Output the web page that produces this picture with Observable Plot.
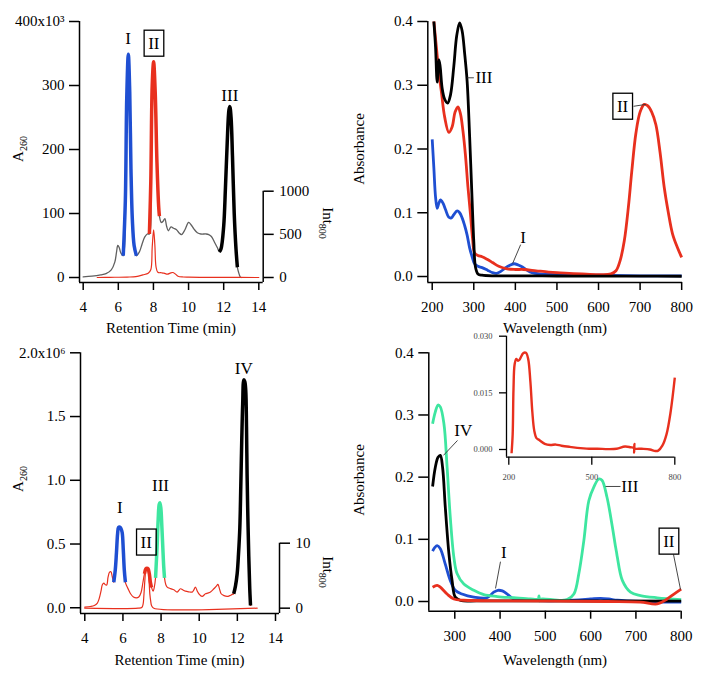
<!DOCTYPE html>
<html><head><meta charset="utf-8">
<script src="https://cdn.jsdelivr.net/npm/d3@7"></script>
<script src="https://cdn.jsdelivr.net/npm/@observablehq/plot@0.6"></script>
<style>
body{margin:0;background:#fff;}
#chart{position:relative;width:704px;height:678px;overflow:hidden;background:#fff;}
#chart svg{position:absolute;left:0;top:0;font-family:"Liberation Serif","Times New Roman",serif !important;font-size:15px;background:transparent !important;color:#000;}
</style></head><body><div id="chart"></div>
<script>
// ---------- DATA ----------
// Panel A (top-left): retention time (min) vs A260 (x10^3), full trace
const chromA_A260 = [[4.0,1],[4.5,2],[5.0,4],[5.3,6],[5.6,12],[5.8,24],[5.9,40],[5.97,50],[6.05,47],[6.15,38],[6.28,34],
 [6.4,120],[6.48,280],[6.57,349],[6.65,290],[6.72,170],[6.8,90],[6.9,50],[7.03,34],[7.2,40],[7.35,52],[7.5,63],[7.65,68],[7.77,68],
 [7.85,150],[7.93,300],[8.01,337],[8.1,290],[8.2,180],[8.3,110],[8.34,96],[8.45,86],[8.55,88],[8.65,92],[8.75,80],[8.85,73],
 [9.0,79],[9.15,77],[9.3,75],[9.45,70],[9.6,67],[9.8,75],[10.0,86],[10.15,82],[10.3,76],[10.5,70],[10.7,68],[11.0,68],[11.15,67],
 [11.3,64],[11.5,54],[11.65,46],[11.75,40],[11.85,45],[12.0,80],[12.1,140],[12.2,210],[12.3,262],[12.35,267],[12.42,250],
 [12.5,190],[12.6,100],[12.7,45],[12.78,16],[12.85,8],[12.94,1],[13.0,0]];
const chromA_Int800 = [[4.8,0],[5.5,2],[6.5,5],[7.0,10],[7.4,30],[7.7,50],[7.85,90],[7.93,350],[8.01,553],[8.08,380],[8.15,120],
 [8.25,60],[8.45,55],[8.6,50],[8.8,38],[8.95,50],[9.1,58],[9.25,40],[9.4,15],[9.7,6],[10.0,4],[11,2],[12,1],[14,0]];
const chromA_fractions = [["I",6.28,7.03,"blue"],["II",7.77,8.34,"red"],["III",11.75,12.78,"black"]];
const chromA_labels = [["I",6.56,373],["II",8.02,366],["III",12.35,285]];

// Panel B (top-right): wavelength (nm) vs absorbance
const specB_III = [[204,0.40],[208,0.36],[212,0.305],[216,0.34],[219,0.33],[224,0.295],[230,0.278],[237,0.272],[244,0.285],[252,0.33],
 [259,0.378],[266,0.398],[272,0.385],[278,0.35],[284,0.306],[290,0.22],[296,0.119],[300,0.055],[304,0.015],[310,0.004],[320,0.002],
 [350,0.001],[400,0.001],[500,0.0008],[600,0.0006],[700,0.0005],[800,0.0004]];
const specB_II = [[204,0.40],[210,0.36],[216,0.32],[222,0.29],[230,0.25],[240,0.226],[248,0.235],[255,0.258],[262,0.266],[268,0.255],
 [274,0.228],[280,0.19],[286,0.14],[292,0.098],[297,0.06],[302,0.037],[310,0.033],[320,0.031],[332,0.027],[345,0.022],[360,0.016],
 [380,0.012],[400,0.011],[420,0.011],[450,0.009],[480,0.007],[500,0.006],[530,0.005],[560,0.004],[600,0.003],[630,0.004],[642,0.009],
 [652,0.025],[662,0.056],[672,0.11],[680,0.165],[690,0.225],[700,0.258],[710,0.27],[718,0.268],[728,0.258],[738,0.238],[748,0.195],
 [758,0.14],[768,0.1],[778,0.067],[790,0.045],[800,0.03]];
const specB_I = [[200,0.215],[204,0.17],[208,0.125],[212,0.107],[216,0.115],[220,0.12],[226,0.115],[232,0.105],[240,0.093],[246,0.092],
 [252,0.097],[260,0.103],[266,0.1],[272,0.092],[278,0.08],[284,0.065],[290,0.045],[296,0.031],[302,0.02],[310,0.016],[320,0.014],
 [333,0.01],[345,0.006],[355,0.005],[365,0.008],[375,0.013],[388,0.018],[397,0.02],[407,0.018],[417,0.015],[428,0.01],[440,0.006],
 [460,0.004],[500,0.003],[550,0.002],[600,0.002],[700,0.001],[800,0.001]];
const specB_labels = [["III",324.3,0.3117],["II",657.8,0.267],["I",418.3,0.0617]];
const specB_leaders = [[284.3,0.3117,300.2,0.3117],[684.3,0.267,714,0.270],[412.7,0.050,393.4,0.0204]];

// Panel C (bottom-left): retention time (min) vs A260 (x10^6)
const chromC_A260 = [[4.0,0.005],[4.3,0.01],[4.5,0.018],[4.65,0.035],[4.75,0.07],[4.85,0.13],[4.92,0.18],[5.0,0.193],[5.08,0.18],
 [5.15,0.178],[5.22,0.24],[5.3,0.28],[5.37,0.283],[5.44,0.245],[5.52,0.2],[5.6,0.3],[5.66,0.43],[5.72,0.58],[5.77,0.63],[5.84,0.633],
 [5.9,0.62],[5.96,0.59],[6.02,0.45],[6.07,0.3],[6.13,0.2],[6.2,0.17],[6.3,0.14],[6.4,0.11],[6.55,0.085],[6.7,0.078],[6.83,0.084],
 [6.95,0.12],[7.05,0.2],[7.13,0.267],[7.2,0.305],[7.26,0.31],[7.32,0.305],[7.38,0.27],[7.44,0.2],[7.5,0.16],[7.58,0.13],[7.65,0.165],
 [7.71,0.235],[7.79,0.476],[7.85,0.7],[7.9,0.81],[7.94,0.824],[7.99,0.78],[8.04,0.64],[8.09,0.476],[8.14,0.32],[8.18,0.235],[8.25,0.18],
 [8.32,0.162],[8.5,0.15],[8.67,0.141],[8.84,0.123],[9.02,0.149],[9.15,0.14],[9.28,0.13],[9.45,0.125],[9.63,0.123],[9.72,0.14],[9.8,0.162],
 [9.9,0.13],[9.98,0.11],[10.15,0.089],[10.33,0.11],[10.45,0.115],[10.59,0.123],[10.77,0.149],[10.9,0.17],[10.98,0.183],[11.06,0.15],
 [11.15,0.11],[11.3,0.095],[11.47,0.089],[11.6,0.095],[11.73,0.105],[11.81,0.11],[11.9,0.17],[11.99,0.267],[12.06,0.42],[12.13,0.63],
 [12.18,0.95],[12.23,1.31],[12.28,1.6],[12.34,1.788],[12.39,1.775],[12.44,1.705],[12.48,1.42],[12.51,1.05],[12.55,0.72],[12.6,0.4],
 [12.65,0.15],[12.69,0.018]];
const chromC_Int800 = [[4.0,0],[6.8,0],[7.0,0.15],[7.06,0.67],[7.1,2.0],[7.15,4.3],[7.2,5.8],[7.26,6.2],[7.32,5.8],[7.37,4.2],[7.41,2.2],
 [7.46,1.0],[7.5,0.4],[7.62,0],[13.04,0]];
const chromC_fractions = [["I",5.52,6.13,"blue"],["II",7.13,7.5,"red"],["III",7.71,8.18,"green"],["IV",11.81,12.69,"black"]];
const chromC_labels = [["I",5.836,0.789],["II",7.22,0.515],["III",7.97,0.96],["IV",12.34,1.88]];

// Panel D (bottom-right): wavelength (nm) vs absorbance
const specD_III = [[251,0.286],[257,0.305],[263,0.316],[268,0.313],[276,0.286],[283,0.216],[290,0.136],[298,0.071],[305,0.045],[320,0.028],
 [342,0.018],[364,0.011],[394,0.008],[430,0.006],[467,0.004],[484,0.004],[486,0.009],[487,0.001],[490,0.004],[526,0.002],[548,0.003],
 [563,0.012],[574,0.045],[585,0.098],[596,0.162],[607,0.184],[618,0.197],[625,0.195],[636,0.168],[648,0.12],[655,0.088],[657,0.08],
 [659,0.071],[670,0.034],[688,0.015],[710,0.0096],[747,0.006],[800,0.003]];
const specD_IV = [[251,0.185],[257,0.216],[263,0.232],[268,0.235],[273,0.216],[279,0.152],[287,0.077],[294,0.034],[301,0.007],[313,0.0016],
 [350,0.001],[500,0.001],[800,0.0005]];
const specD_I = [[251,0.081],[256,0.087],[261,0.09],[268,0.085],[279,0.06],[290,0.034],[301,0.018],[316,0.012],[342,0.007],[371,0.006],
 [386,0.015],[395,0.018],[405,0.017],[416,0.012],[430,0.004],[460,0.002],[563,0.002],[600,0.004],[622,0.005],[640,0.004],[659,0.002],
 [710,0.0],[800,-0.001]];
const specD_II = [[251,0.023],[261,0.026],[268,0.023],[283,0.012],[298,0.004],[320,0.002],[416,0.001],[637,0],[710,-0.001],[747,-0.004],
 [769,0.004],[784,0.012],[800,0.02]];
const specD_labels = [["IV",318.6,0.275],["III",686.5,0.185],["I",408.2,0.079],["II",772.6,0.097]];
const specD_leaders = [[306,0.259,274.9,0.235],[633,0.185,666,0.185],[400.9,0.064,389.9,0.021],[783,0.0756,798.5,0.0193]];

// Inset: fraction II, enlarged
const insetD_II = [[210,-0.001],[214,0.004],[217,0.016],[221,0.0225],[227,0.024],[233,0.0235],[238,0.0237],[244,0.0245],[252,0.0255],
 [262,0.0256],[270,0.024],[278,0.018],[285,0.01],[292,0.005],[300,0.003],[310,0.0025],[330,0.0015],[350,0.0012],[370,0.0013],[390,0.001],
 [420,0.0007],[470,0.0003],[490,0.0002],[520,0.0002],[560,0.0001],[590,0.0002],[620,0.0008],[640,0.0006],[652,0.0004],[653,-0.0008],
 [654,0.0015],[655,0.0003],[680,0.0002],[710,0.0],[730,-0.0004],[740,-0.0003],[755,0.001],[770,0.004],[785,0.01],[800,0.019]];

const ticksRetention = [4,6,8,10,12,14];
const ticksA260_A = [0,100,200,300,400];
const ticksInt_A = [0,500,1000];
const ticksA260_C = [0,0.5,1.0,1.5,2.0];
const ticksInt_C = [0,10];
const ticksWave_B = [200,300,400,500,600,700,800];
const ticksWave_D = [300,400,500,600,700,800];
const ticksAbs = [0,0.1,0.2,0.3,0.4];
const ticksInsetX = [200,500,800];
const ticksInsetY = [0,0.015,0.030];

// ---------- RENDER ----------
const W = 704, H = 678;
const FONT = "'Liberation Serif', 'Times New Roman', serif";
const COL = {blue:"#1f4fd2", red:"#e8301e", green:"#3ee6a0", gray:"#606060", black:"#000000"};
const STYLE = "background:transparent;overflow:visible;color:#000;font-family:'Liberation Serif',serif;font-size:15px;";
const pts = a => a.map(([x,y]) => ({x,y}));
const within = (a, lo, hi) => a.filter(d => d.x >= lo - 1e-9 && d.x <= hi + 1e-9);
const lab = a => a.map(([t,x,y]) => ({t,x,y}));
const lead = a => a.map(([x1,y1,x2,y2]) => ({x1,y1,x2,y2}));
const chart = document.getElementById("chart");

function panel(cfg) {
  const [x0,x1] = cfg.xd, [y0,y1] = cfg.yd;
  const lw = cfg.lw ?? 1.5;
  const svg = Plot.plot({
    width: W, height: H,
    marginLeft: cfg.m[0], marginRight: cfg.m[1], marginTop: cfg.m[2], marginBottom: cfg.m[3],
    x: {domain: cfg.xd}, y: {domain: cfg.yd},
    style: STYLE,
    marks: [
      Plot.ruleX([x0], {y1: y0, y2: y1, strokeWidth: lw}),
      Plot.ruleY([y0], {x1: x0, x2: x1, strokeWidth: lw}),
      Plot.axisX(cfg.xt, {tickSize: cfg.xts ?? 8, tickPadding: cfg.xtp ?? 11, label: null, strokeWidth: lw, tickFormat: cfg.xf ?? d3.format("d"), fontSize: cfg.fs, fill: cfg.tc ?? "#000"}),
      Plot.axisY(cfg.yt, {tickSize: cfg.yts ?? 10, tickPadding: cfg.ytp ?? 5, label: null, strokeWidth: lw, tickFormat: cfg.yf, fontSize: cfg.fs, fill: cfg.tc ?? "#000"}),
      ...cfg.marks
    ]
  });
  chart.appendChild(svg);
  return svg;
}
function rightAxis(cfg) {
  const svg = Plot.plot({
    width: W, height: H,
    marginLeft: cfg.m[0], marginRight: cfg.m[1], marginTop: cfg.m[2], marginBottom: cfg.m[3],
    x: {domain: cfg.xd, axis: null}, y: {domain: cfg.yd},
    style: STYLE,
    marks: [
      Plot.ruleX([cfg.xd[1]], {y1: cfg.yd[0], y2: cfg.yd[1], strokeWidth: 1.5}),
      Plot.axisY(cfg.yt, {anchor: "right", tickSize: 10, tickPadding: 6, label: null, strokeWidth: 1.5, tickFormat: d3.format("d"), fill: "#000"}),
      ...cfg.marks
    ]
  });
  chart.appendChild(svg);
  return svg;
}
const thin = (data, color, w=1.3) => Plot.line(data, {x:"x", y:"y", stroke: color, strokeWidth: w, curve:"catmull-rom"});
const thick = (data, color, w=3.2) => Plot.line(data, {x:"x", y:"y", stroke: color, strokeWidth: w, curve:"catmull-rom", strokeLinecap:"butt"});
const labels = data => Plot.text(lab(data), {x:"x", y:"y", text:"t", fontSize: 17, fill:"#000"});
const leaders = data => Plot.link(lead(data), {x1:"x1", y1:"y1", x2:"x2", y2:"y2", stroke:"#333", strokeWidth: 0.9});

// Panel A
const gA = pts(chromA_A260);
panel({
  xd:[3.79,14.25], yd:[-7.8,400], m:[79,441.3,21,396],
  xt: ticksRetention, yt: ticksA260_A, yf: d => d === 400 ? "400x10³" : String(d),
  marks: [
    thin(gA, COL.gray, 1.3),
    ...chromA_fractions.map(([n,lo,hi,c]) => thick(within(gA,lo,hi), COL[c], 3.5)),
    labels(chromA_labels)
  ]
});
rightAxis({xd:[3.79,14.25], yd:[-58,1000], m:[79,441.3,190.7,396], yt: ticksInt_A,
  marks:[thin(pts(chromA_Int800), COL.red, 1.2)]});

// Panel B
panel({
  xd:[189.4,802], yd:[-0.0094,0.4], m:[427.3,22,21,396],
  xt: ticksWave_B, yt: ticksAbs, yf: d3.format(".1f"),
  marks: [
    thick(pts(specB_I), COL.blue, 2.8),
    thick(pts(specB_II), COL.red, 2.8),
    thick(pts(specB_III), COL.black, 2.8),
    leaders(specB_leaders),
    labels(specB_labels)
  ]
});

// Panel C
const gC = pts(chromC_A260);
panel({
  xd:[3.775,14.21], yd:[-0.045,2.0], m:[80,425,352.3,65],
  xt: ticksRetention, yt: ticksA260_C, yf: d => d === 2 ? "2.0x10⁶" : d3.format(".1f")(d),
  marks: [
    thin(gC, COL.red, 1.2),
    ...chromC_fractions.map(([n,lo,hi,c]) => thick(within(gC,lo,hi), COL[c], 3.5)),
    labels(chromC_labels)
  ]
});
rightAxis({xd:[3.775,14.21], yd:[-0.82,10], m:[80,425,542.7,65], yt: ticksInt_C,
  marks:[thin(pts(chromC_Int800), COL.red, 1.2)]});

// Panel D
panel({
  xd:[242.6,800], yd:[-0.0156,0.4], m:[428.3,23.3,352.3,67.3],
  xt: ticksWave_D, yt: ticksAbs, yf: d3.format(".1f"),
  marks: [
    thick(pts(specD_I), COL.blue, 2.8),
    thick(pts(specD_III), COL.green, 2.8),
    thick(pts(specD_IV), COL.black, 2.8),
    thick(pts(specD_II), COL.red, 2.8),
    leaders(specD_leaders),
    labels(specD_labels)
  ]
});

// Inset
panel({
  xd:[191.7,800], yd:[-0.00204,0.030], m:[506,29.7,335.7,221.3],
  xt: ticksInsetX, yt: ticksInsetY, yf: d3.format(".3f"),
  xts: 8, xtp: 9, yts: 7, ytp: 7, lw: 1.3, fs: 8.5, tc: "#444",
  marks: [ thick(pts(insetD_II), COL.red, 2.4) ]
});

// Box the "II" labels
d3.select(chart).selectAll("g[aria-label='text'] text").each(function() {
  if (this.textContent !== "II") return;
  const b = this.getBBox();
  const r = document.createElementNS("http://www.w3.org/2000/svg","rect");
  const px = 4, py = 3.5;
  r.setAttribute("x", b.x - px); r.setAttribute("y", b.y - py);
  r.setAttribute("width", b.width + 2*px); r.setAttribute("height", b.height + 2*py);
  r.setAttribute("fill","none"); r.setAttribute("stroke","#000"); r.setAttribute("stroke-width","1.3");
  const tr = this.getAttribute("transform"); if (tr) r.setAttribute("transform", tr);
  this.parentNode.insertBefore(r, this);
});

// Axis titles
const tsvg = d3.select(chart).append("svg").attr("width",W).attr("height",H);
function title(x, y, rot, main, sub) {
  const t = tsvg.append("text").attr("transform", `translate(${x},${y}) rotate(${rot})`)
    .attr("text-anchor","middle").attr("dy","0.35em").attr("fill","#000").attr("font-size", 15);
  t.append("tspan").text(main);
  if (sub) t.append("tspan").attr("font-size","10px").attr("dy","4").text(sub);
}
title(18,149,-90,"A","260");
title(18,479,-90,"A","260");
title(328,223,90,"Int","800");
title(328,572,90,"Int","800");
title(359,149,-90,"Absorbance");
title(359,480,-90,"Absorbance");
title(171,328,0,"Retention Time (min)");
title(179.5,660,0,"Retention Time (min)");
title(555,328,0,"Wavelength (nm)");
title(555,660,0,"Wavelength (nm)");

// make sure every text uses the serif family
d3.select(chart).selectAll("text").style("font-family", FONT);
</script></body></html>
